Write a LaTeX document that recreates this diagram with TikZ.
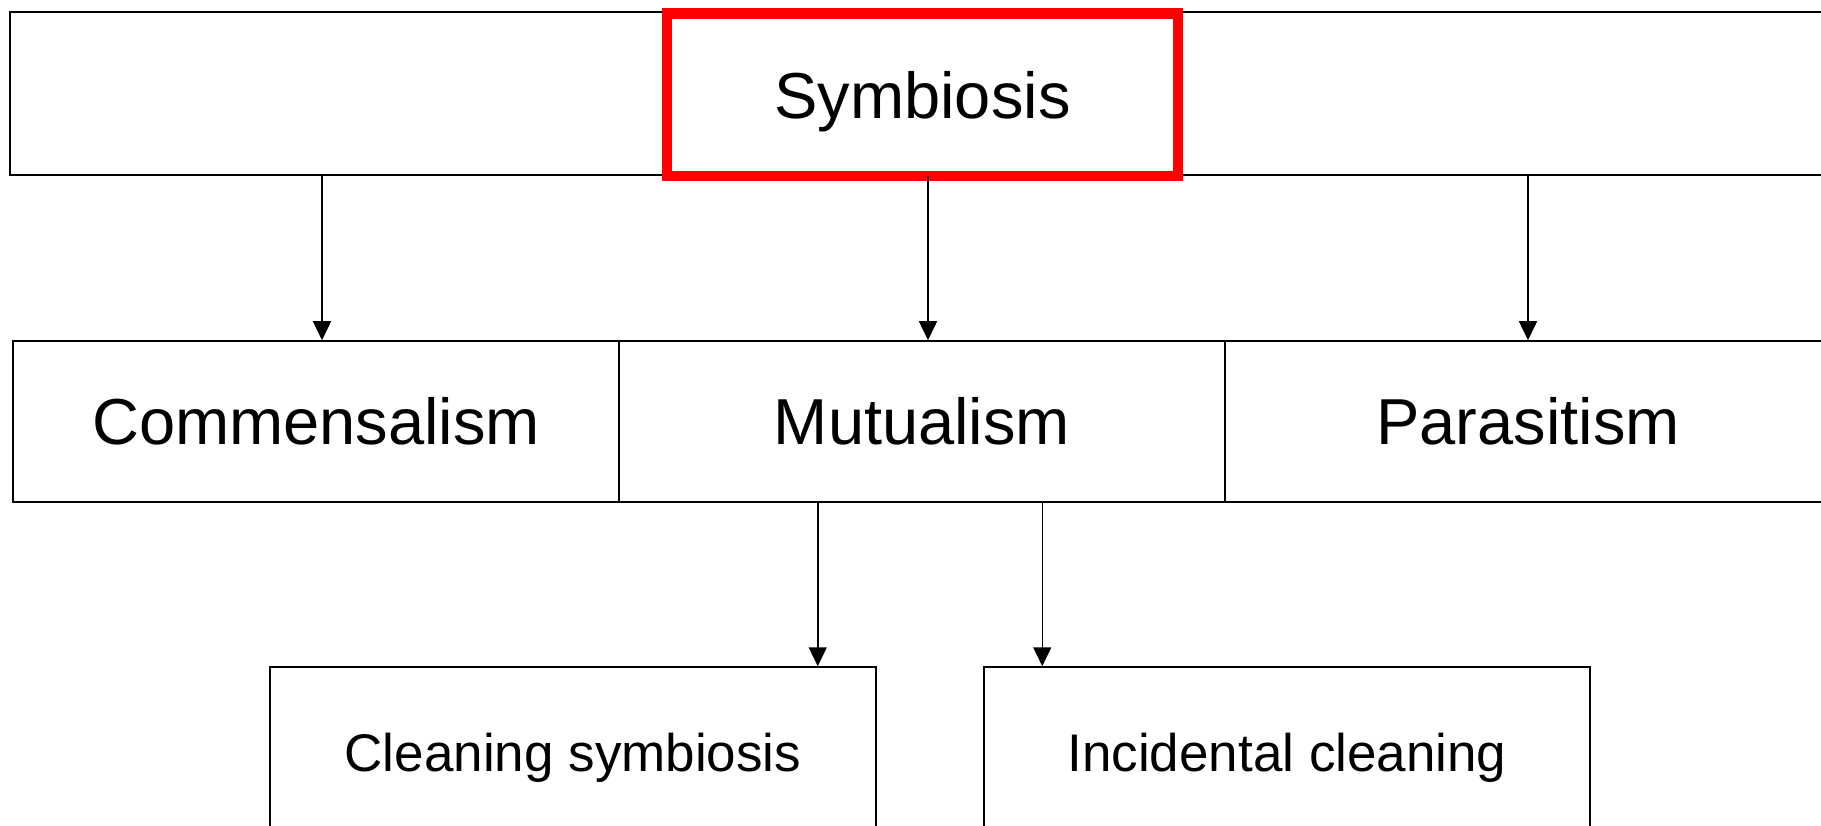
\documentclass[tikz,border=0pt]{standalone}
\usepackage{fontspec}
\setmainfont{Liberation Sans}
\usetikzlibrary{arrows.meta}
\begin{document}
\begin{tikzpicture}[x=1pt, y=-1pt,
        box/.style={draw, line width=1.5pt, inner sep=0pt, text depth=0pt},
        big/.style={font=\fontsize{65}{70}\selectfont, text height=46.5pt},
        small/.style={font=\fontsize{53}{58}\selectfont, text height=38pt},
        arr/.style={line width=1.5pt, -{Triangle[width=18pt, length=19pt]}}]
    \useasboundingbox (0,0) rectangle (1821,826);
    \node[box, minimum width=1826pt, minimum height=163pt] (top) at (923,93.5) {};
    \node[box, big, draw=red, line width=10.5pt, minimum width=511pt, minimum height=162.5pt] (sym) at (922.5,95) {Symbiosis};
    \foreach \name/\txt/\x in {com/Commensalism/316, mut/Mutualism/922, par/Parasitism/1528} {
        \node[box, big, minimum width=606pt, minimum height=161pt] (\name) at (\x,421.5) {\txt};
    }
    \node[box, small, minimum width=606pt, minimum height=170pt] (cls) at (573,752) {Cleaning symbiosis};
    \node[box, small, minimum width=606pt, minimum height=170pt] (inc) at (1287,752) {Incidental cleaning};
    \foreach \name/\dx in {com/6, mut/6, par/0} {
        \draw[arr] ([xshift=\dx pt]\name.north |- top.south) -- ([xshift=\dx pt]\name.north);
    }
    \draw[arr] ([xshift=-59pt]cls.north east |- mut.south) -- ([xshift=-59pt]cls.north east);
    \draw[arr] ([xshift=59pt]inc.north west |- mut.south) -- ([xshift=59pt]inc.north west);
\end{tikzpicture}
\end{document}
